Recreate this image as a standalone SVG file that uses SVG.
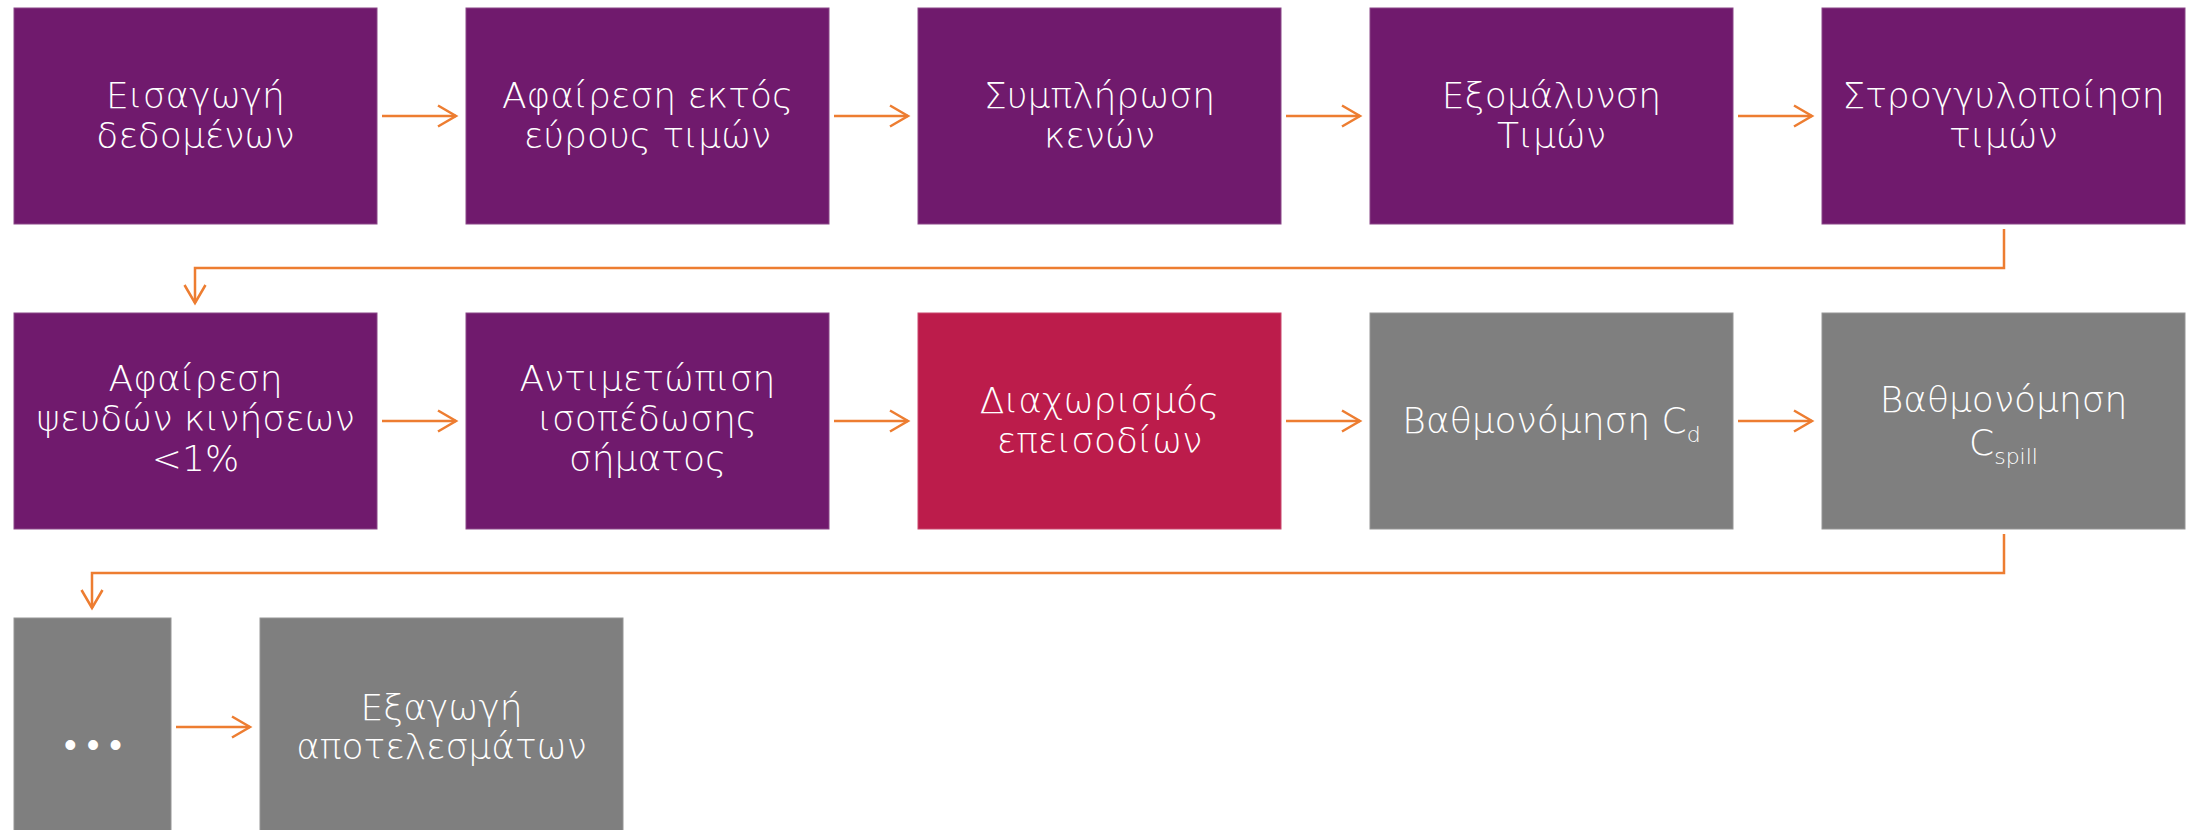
<svg xmlns="http://www.w3.org/2000/svg" width="2199" height="830" viewBox="0 0 2199 830">
<defs>
<style>
.p{fill:#701A6D;stroke:#8a4688;stroke-width:1}
.r{fill:#BC1C4B;stroke:#c9476d;stroke-width:1}
.g{fill:#7F7F7F;stroke:#969696;stroke-width:1}
text{font-family:"DejaVu Sans","Liberation Sans",sans-serif;font-weight:200;font-size:36px;fill:#FFFFFF;text-anchor:middle}
.c{fill:none;stroke:#ED7D31;stroke-width:2.5}
</style>
<marker id="ah" markerUnits="userSpaceOnUse" markerWidth="24" markerHeight="26" viewBox="0 0 24 26" refX="20" refY="13" orient="auto">
<path d="M2,2.5 L20,13 L2,23.5" fill="none" stroke="#ED7D31" stroke-width="2.5"/>
</marker>
</defs>
<rect width="2199" height="830" fill="#FFFFFF"/>
<g id="connectors">
<line class="c" x1="382" y1="116" x2="456" y2="116" marker-end="url(#ah)"/>
<line class="c" x1="834" y1="116" x2="908" y2="116" marker-end="url(#ah)"/>
<line class="c" x1="1286" y1="116" x2="1360" y2="116" marker-end="url(#ah)"/>
<line class="c" x1="1738" y1="116" x2="1812" y2="116" marker-end="url(#ah)"/>
<path class="c" d="M2004,229 V268 H195 V303" marker-end="url(#ah)"/>
<line class="c" x1="382" y1="421" x2="456" y2="421" marker-end="url(#ah)"/>
<line class="c" x1="834" y1="421" x2="908" y2="421" marker-end="url(#ah)"/>
<line class="c" x1="1286" y1="421" x2="1360" y2="421" marker-end="url(#ah)"/>
<line class="c" x1="1738" y1="421" x2="1812" y2="421" marker-end="url(#ah)"/>
<path class="c" d="M2004,534 V573 H92 V608" marker-end="url(#ah)"/>
<line class="c" x1="176" y1="727" x2="250" y2="727" marker-end="url(#ah)"/>
</g>
<g id="n1"><rect class="p" x="14" y="8" width="363" height="216"/><text x="195.5" y="108">Εισαγωγή</text><text x="195.5" y="148">δεδομένων</text></g>
<g id="n2"><rect class="p" x="466" y="8" width="363" height="216"/><text x="647.5" y="108">Αφαίρεση εκτός</text><text x="647.5" y="148">εύρους τιμών</text></g>
<g id="n3"><rect class="p" x="918" y="8" width="363" height="216"/><text x="1099.5" y="108">Συμπλήρωση</text><text x="1099.5" y="148">κενών</text></g>
<g id="n4"><rect class="p" x="1370" y="8" width="363" height="216"/><text x="1551.5" y="108">Εξομάλυνση</text><text x="1551.5" y="148">Τιμών</text></g>
<g id="n5"><rect class="p" x="1822" y="8" width="363" height="216"/><text x="2003.5" y="108">Στρογγυλοποίηση</text><text x="2003.5" y="148">τιμών</text></g>
<g id="n6"><rect class="p" x="14" y="313" width="363" height="216"/><text x="195.5" y="391">Αφαίρεση</text><text x="195.5" y="431">ψευδών κινήσεων</text><text x="195.5" y="471">&lt;1%</text></g>
<g id="n7"><rect class="p" x="466" y="313" width="363" height="216"/><text x="647.5" y="391">Αντιμετώπιση</text><text x="647.5" y="431">ισοπέδωσης</text><text x="647.5" y="471">σήματος</text></g>
<g id="n8"><rect class="r" x="918" y="313" width="363" height="216"/><text x="1099.5" y="413">Διαχωρισμός</text><text x="1099.5" y="453">επεισοδίων</text></g>
<g id="n9"><rect class="g" x="1370" y="313" width="363" height="216"/><text x="1551.5" y="433">Βαθμονόμηση C<tspan font-size="22" dy="9">d</tspan></text></g>
<g id="n10"><rect class="g" x="1822" y="313" width="363" height="216"/><text x="2003.5" y="412">Βαθμονόμηση</text><text x="2003.5" y="455">C<tspan font-size="22" dy="9">spill</tspan></text></g>
<g id="n11"><rect class="g" x="14" y="618" width="157" height="216"/><text x="98" y="757" font-size="38" letter-spacing="10">•••</text></g>
<g id="n12"><rect class="g" x="260" y="618" width="363" height="216"/><text x="441.5" y="720">Εξαγωγή</text><text x="441.5" y="759">αποτελεσμάτων</text></g>
</svg>
